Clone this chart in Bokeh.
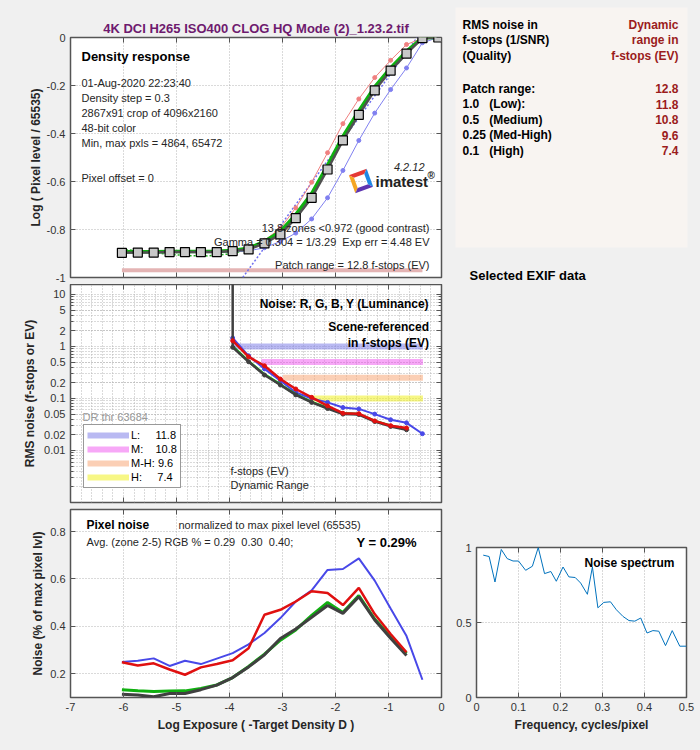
import math
from bokeh.plotting import figure
from bokeh.layouts import row, column
from bokeh.models import (Label, FixedTicker, NumeralTickFormatter, LinearAxis, LogAxis,
                          Legend, LegendItem, PolyAnnotation, BoxAnnotation, Range1d)
from bokeh.embed import file_html
from bokeh.resources import INLINE

FONT = "Liberation Sans"
BG = "#f0f0f0"
FRAME = "#555555"
TXT = "#262626"
GRID = "#b4b4b4"

# ---------------- data ----------------
title_text = "4K DCI H265 ISO400 CLOG HQ Mode (2)_1.23.2.tif"

patch_x = [-6.03, -5.73, -5.43, -5.13, -4.84, -4.54, -4.24, -3.94, -3.64, -3.34, -3.04,
           -2.75, -2.45, -2.15, -1.86, -1.56, -1.26, -0.96, -0.66, -0.36, -0.06]
density_Y = [-0.897, -0.896, -0.896, -0.894, -0.894, -0.894, -0.894, -0.890, -0.883, -0.858, -0.820,
             -0.753, -0.668, -0.550, -0.429, -0.322, -0.220, -0.138, -0.067, -0.003, 0.0]
density_G = [-0.893, -0.893, -0.893, -0.892, -0.892, -0.892, -0.891, -0.887, -0.878, -0.850, -0.808,
             -0.738, -0.650, -0.533, -0.412, -0.306, -0.206, -0.127, -0.058, -0.001, 0.0]
density_R = [-0.897, -0.896, -0.896, -0.894, -0.894, -0.894, -0.893, -0.888, -0.876, -0.845, -0.795,
             -0.710, -0.603, -0.480, -0.359, -0.256, -0.167, -0.095, -0.029, -0.003, 0.0]
density_B = [-0.897, -0.897, -0.897, -0.896, -0.896, -0.896, -0.896, -0.893, -0.889, -0.876, -0.850,
             -0.815, -0.756, -0.668, -0.554, -0.429, -0.315, -0.217, -0.127, -0.022, 0.0]
fit_x = [-6.03, -5.6, -5.2, -4.8, -4.4, -4.0, -3.7, -3.4, -3.1, -2.8, -2.5]
fit_y = [-0.882, -0.893, -0.902, -0.909, -0.910, -0.902, -0.887, -0.862, -0.823, -0.765, -0.685]
gamma_x = [-3.75, -0.46]
gamma_y = [-1.0, 0.0]
patch_range_x = [-6.03, -0.36]
patch_range_y = [-0.97, -0.97]

density_info = ["01-Aug-2020 22:23:40", "Density step = 0.3", "2867x91 crop of 4096x2160",
                "48-bit color", "Min, max pxls = 4864, 65472"]

# RMS noise in f-stops (scene referenced)
noise_x = [-3.94, -3.64, -3.34, -3.04, -2.75, -2.45, -2.15, -1.86, -1.56, -1.26, -0.96, -0.66]
noise_xB = [-3.94, -3.64, -3.34, -3.04, -2.75, -2.45, -2.15, -1.86, -1.56, -1.26, -0.96, -0.66, -0.36]
noise_Y = [0.96, 0.508, 0.282, 0.181, 0.117, 0.084, 0.064, 0.050, 0.049, 0.036, 0.029, 0.025]
noise_G = [1.0, 0.52, 0.29, 0.186, 0.12, 0.086, 0.066, 0.052, 0.050, 0.037, 0.030, 0.026]
noise_R = [1.29, 0.63, 0.425, 0.236, 0.152, 0.105, 0.072, 0.052, 0.051, 0.037, 0.030, 0.027]
noise_B = [1.45, 0.66, 0.37, 0.22, 0.13, 0.10, 0.084, 0.067, 0.063, 0.050, 0.039, 0.034, 0.021]
noise_offscale = 100.0   # the Y curve leaves the chart at the dark end

dr_names = ["L:", "M:", "M-H:", "H:"]
dr_thresholds = [1.0, 0.5, 0.25, 0.1]
dr_start_x = [-3.92, -3.40, -2.99, -2.46]
dr_end_x = -0.35
dr_colors = ["#8080e8", "#f060f0", "#f8a878", "#f0f020"]
dr_patch = 12.8
dr_values = [11.8, 10.8, 9.6, 7.4]
quality_labels = ["1.0\u00a0\u00a0\u00a0(Low):", "0.5\u00a0\u00a0\u00a0(Medium)",
                  "0.25 (Med-High)", "0.1\u00a0\u00a0\u00a0(High)"]

# Pixel noise (% of max pixel level)
pix_x = [-6.03, -5.73, -5.43, -5.13, -4.84, -4.54, -4.24, -3.94, -3.64, -3.34, -3.04,
         -2.75, -2.45, -2.15, -1.86, -1.56, -1.26, -0.96, -0.66]
pix_xB = pix_x + [-0.36]
pix_B = [0.250, 0.255, 0.265, 0.233, 0.255, 0.241, 0.264, 0.287, 0.324, 0.372, 0.435,
         0.505, 0.552, 0.638, 0.642, 0.687, 0.593, 0.475, 0.359, 0.175]
pix_R = [0.249, 0.235, 0.244, 0.218, 0.196, 0.227, 0.241, 0.257, 0.308, 0.449, 0.470,
         0.505, 0.548, 0.541, 0.490, 0.562, 0.452, 0.368, 0.291]
pix_G = [0.133, 0.128, 0.125, 0.127, 0.128, 0.138, 0.153, 0.184, 0.231, 0.283, 0.342,
         0.385, 0.446, 0.501, 0.459, 0.530, 0.431, 0.355, 0.286]
pix_Y = [0.114, 0.111, 0.103, 0.117, 0.117, 0.133, 0.152, 0.184, 0.229, 0.280, 0.349,
         0.389, 0.438, 0.488, 0.455, 0.525, 0.427, 0.350, 0.277]

# Noise spectrum
spec_f = [0.016, 0.030, 0.044, 0.059, 0.073, 0.087, 0.100, 0.117, 0.133, 0.147, 0.162, 0.177,
          0.190, 0.206, 0.220, 0.235, 0.248, 0.264, 0.276, 0.289, 0.303, 0.319, 0.333, 0.349,
          0.363, 0.377, 0.391, 0.406, 0.420, 0.434, 0.450, 0.466, 0.484, 0.500]
spec_v = [0.949, 0.940, 0.770, 0.987, 0.926, 0.910, 0.910, 0.848, 0.875, 1.000, 0.826, 0.840,
          0.775, 0.870, 0.804, 0.800, 0.763, 0.688, 0.870, 0.598, 0.634, 0.638, 0.585, 0.540,
          0.513, 0.509, 0.530, 0.430, 0.446, 0.442, 0.346, 0.446, 0.342, 0.342]

x_ticks = [-7, -6, -5, -4, -3, -2, -1, 0]
dens_ticks = [-1.0, -0.8, -0.6, -0.4, -0.2, 0.0]
log_ticks = [0.01, 0.02, 0.05, 0.1, 0.2, 0.5, 1, 2, 5, 10]
pix_ticks = [0.2, 0.4, 0.6, 0.8]
spec_xticks = [0, 0.1, 0.2, 0.3, 0.4, 0.5]
spec_yticks = [0, 0.5, 1]


# ---------------- helpers ----------------
def style_axis(ax, labels=True):
    ax.axis_line_color = None
    ax.major_tick_in = 5
    ax.major_tick_out = 0
    ax.minor_tick_in = 0
    ax.minor_tick_out = 0
    ax.major_tick_line_color = FRAME
    ax.minor_tick_line_color = FRAME
    ax.major_label_text_font = FONT
    if labels:
        ax.major_label_text_font_size = "11px"
        ax.major_label_text_color = "#333333"
        ax.major_label_standoff = 5
    else:
        ax.major_label_text_font_size = "0px"
        ax.major_label_text_color = None
        ax.major_label_standoff = 0
    ax.axis_label_text_font = FONT
    ax.axis_label_text_font_size = "12px"
    ax.axis_label_text_font_style = "bold"
    ax.axis_label_text_color = TXT
    ax.axis_label_standoff = 4


def make_fig(w, h, bl, br, bt, bb, xr, yr, y_type="linear"):
    p = figure(width=w, height=h, x_range=Range1d(*xr), y_range=Range1d(*yr),
               y_axis_type=y_type, output_backend="svg", toolbar_location=None,
               min_border_left=bl, min_border_right=br, min_border_top=bt, min_border_bottom=bb)
    p.frame_align = False
    p.border_fill_color = BG
    p.background_fill_color = "white"
    p.outline_line_color = FRAME
    p.outline_line_width = 1.5
    return p


def grid_style(g):
    g.grid_line_color = GRID
    g.grid_line_dash = "1 2"
    g.grid_line_width = 1


def setup_axes(p, xt, yt, xfmt, yfmt, xlabels, ylabels, xlabel=None, ylabel=None, log=False):
    p.xaxis.ticker = xt
    p.yaxis.ticker = yt
    p.xaxis.formatter = xfmt
    p.yaxis.formatter = yfmt
    style_axis(p.xaxis[0], xlabels)
    style_axis(p.yaxis[0], ylabels)
    if xlabel:
        p.xaxis.axis_label = xlabel
    if ylabel:
        p.yaxis.axis_label = ylabel
    top = LinearAxis(ticker=xt)
    style_axis(top, False)
    p.add_layout(top, "above")
    right = LogAxis(ticker=yt) if log else LinearAxis(ticker=yt)
    style_axis(right, False)
    p.add_layout(right, "right")
    p.xgrid.ticker = xt
    p.ygrid.ticker = yt
    grid_style(p.xgrid[0])
    grid_style(p.ygrid[0])


def lab(p, fl, fb, x, y, text, size="11px", style="normal", color=TXT, align="left"):
    # x, y given in page pixels; converted to frame-relative screen units
    p.add_layout(Label(x=x - fl, y=fb - y, x_units="screen", y_units="screen", text=text,
                       text_font=FONT, text_font_size=size, text_font_style=style,
                       text_color=color, text_align=align, text_baseline="middle"))


LW, RW = 450, 250

# ---------------- top: density response ----------------
p1 = make_fig(LW, 284, 70, 9, 37, 7, (-7, 0), (-1, 0))
setup_axes(p1, FixedTicker(ticks=x_ticks), FixedTicker(ticks=dens_ticks),
           NumeralTickFormatter(format="0"), NumeralTickFormatter(format="0.[0]"),
           False, True, ylabel="Log ( Pixel level / 65535)")
p1.yaxis[0].axis_label_standoff = 1
p1.title.text = title_text
p1.title.align = "center"
p1.title.text_font = FONT
p1.title.text_font_size = "13px"
p1.title.text_font_style = "bold"
p1.title.text_color = "#6e1a6e"
p1.title.standoff = 3
FL1, FB1 = 70, 277
p1.line(patch_range_x, patch_range_y, line_color="#e4b4b4", line_width=4)
p1.line(fit_x, fit_y, line_color="#20b020", line_width=1.5, line_dash="2 2")
p1.line(gamma_x, gamma_y, line_color="#7070f0", line_width=1.5, line_dash="2 2")
p1.line(patch_x, density_R, line_color="#f08080", line_width=1)
p1.scatter(patch_x, density_R, size=4, color="#f08080")
p1.line(patch_x, density_B, line_color="#8080f0", line_width=1)
p1.scatter(patch_x, density_B, size=4, color="#8080f0")
p1.line(patch_x, density_G, line_color="#10b010", line_width=3.5)
p1.line(patch_x, density_Y, line_color="#505050", line_width=2.5)
p1.scatter(patch_x, density_Y, marker="square", size=9, fill_color="#c8c8c8",
           line_color="black", line_width=1.2)

lab(p1, FL1, FB1, 81, 56, "Density response", size="13px", style="bold", color="black")
for i, t in enumerate(density_info):
    lab(p1, FL1, FB1, 81, 82 + 15 * i, t)
lab(p1, FL1, FB1, 81, 177, "Pixel offset = 0")
lab(p1, FL1, FB1, 429, 227.5, "13.8 zones <0.972 (good contrast)", align="right")
lab(p1, FL1, FB1, 429, 241.7, "Gamma = 0.304 = 1/3.29\u00a0\u00a0Exp err = 4.48 EV", align="right")
lab(p1, FL1, FB1, 429, 264.3, f"Patch range = {dr_patch} f-stops (EV)", align="right")
lab(p1, FL1, FB1, 424, 166.7, "4.2.12", style="italic", align="right")
lab(p1, FL1, FB1, 375, 181, "imatest", size="15px", style="bold", color="#222222")
lab(p1, FL1, FB1, 427, 175, "\u00ae", size="10px", style="bold", color="#222222")
# imatest logo (rotated square with coloured edges)
cx, cy, hs, th, rot = 360.5 - FL1, FB1 - 180.5, 9.5, 4.0, math.radians(20)
logo_cols = ["#e53935", "#f5a623", "#5e35b1", "#1e88e5"]
corners = [rot + math.pi / 4 + k * math.pi / 2 for k in range(4)]
for k in range(4):
    a0, a1 = corners[k], corners[(k + 1) % 4]
    ro, ri = hs * math.sqrt(2), (hs - th) * math.sqrt(2)
    xs = [cx + ro * math.cos(a0), cx + ro * math.cos(a1), cx + ri * math.cos(a1), cx + ri * math.cos(a0)]
    ys = [cy + ro * math.sin(a0), cy + ro * math.sin(a1), cy + ri * math.sin(a1), cy + ri * math.sin(a0)]
    p1.add_layout(PolyAnnotation(xs=xs, ys=ys, xs_units="screen", ys_units="screen",
                                 fill_color=logo_cols[k], fill_alpha=1, line_color=None))

# ---------------- middle: RMS noise ----------------
p2 = make_fig(LW, 221, 70, 9, 0, 3, (-7, 0), (0.001, 15.5), y_type="log")
minor_x = [v / 5 for v in range(-35, 1) if v % 5 != 0]
minor_y = [k * 10 ** e for e in range(-3, 2) for k in range(2, 10)]
xt2 = FixedTicker(ticks=x_ticks, minor_ticks=minor_x)
yt2 = FixedTicker(ticks=log_ticks, minor_ticks=minor_y)
setup_axes(p2, xt2, yt2, NumeralTickFormatter(format="0"), NumeralTickFormatter(format="0.[00]"),
           False, True, ylabel="RMS noise (f-stops or EV)", log=True)
for ax in p2.yaxis:
    ax.minor_tick_in = 3
p2.xgrid.minor_grid_line_color = GRID
p2.xgrid.minor_grid_line_dash = "1 2"
p2.ygrid.minor_grid_line_color = GRID
p2.ygrid.minor_grid_line_dash = "1 2"
FL2, FB2 = 70, 502
band_renderers = []
for name, thr, x0, col in zip(dr_names, dr_thresholds, dr_start_x, dr_colors):
    r = p2.line([x0, dr_end_x], [thr, thr], line_color=col, line_width=6, line_alpha=0.55)
    band_renderers.append(r)
p2.line(noise_xB, noise_B, line_color="#4848e8", line_width=2)
p2.scatter(noise_xB, noise_B, size=4, color="#4848e8")
p2.line(noise_x, noise_G, line_color="#10b010", line_width=2.5)
p2.line([noise_x[0]] + noise_x, [noise_offscale] + noise_Y, line_color="#404040", line_width=2.5)
p2.scatter(noise_x, noise_Y, size=4, color="#404040")
p2.line(noise_x, noise_R, line_color="#e01010", line_width=2.5)
p2.scatter(noise_x, noise_R, size=4, color="#e01010")

lab(p2, FL2, FB2, 428.5, 303.5, "Noise: R, G, B, Y (Luminance)", size="12px", style="bold", color="black", align="right")
lab(p2, FL2, FB2, 428.5, 326.3, "Scene-referenced", size="12px", style="bold", color="black", align="right")
lab(p2, FL2, FB2, 428.5, 342.5, "in f-stops (EV)", size="12px", style="bold", color="black", align="right")
lab(p2, FL2, FB2, 230, 470, "f-stops (EV)")
lab(p2, FL2, FB2, 230, 484, "Dynamic Range")
lab(p2, FL2, FB2, 82, 416, "DR thr 63684", color="#9a9a9a")

leg_pad = {"L:": 5, "M:": 4, "M-H:": 1, "H:": 5}
leg_labels = [f"{n}{chr(160) * leg_pad[n]}{v}" for n, v in zip(dr_names, dr_values)]
legend = Legend(items=[LegendItem(label=t, renderers=[r]) for t, r in zip(leg_labels, band_renderers)],
                location=(13, 14), margin=0, padding=3, spacing=0, glyph_width=42, glyph_height=14,
                label_height=14, label_standoff=2, label_text_font=FONT, label_text_font_size="11px",
                label_text_color="black", border_line_color="#333333", border_line_width=1,
                background_fill_color="white", background_fill_alpha=1)
p2.add_layout(legend)

# ---------------- bottom: pixel noise ----------------
p3 = make_fig(LW, 245, 70, 9, 4, 53, (-7, 0), (0.1, 0.893))
setup_axes(p3, FixedTicker(ticks=x_ticks), FixedTicker(ticks=pix_ticks),
           NumeralTickFormatter(format="0"), NumeralTickFormatter(format="0.[0]"),
           True, True, xlabel="Log Exposure ( -Target Density D )", ylabel="Noise (% of max pixel lvl)")
p3.xaxis[0].major_label_standoff = 8
p3.xaxis[0].axis_label_standoff = 7
p3.yaxis[0].axis_label_standoff = 2
FL3, FB3 = 70, 697
p3.line(pix_xB, pix_B, line_color="#4848e8", line_width=2)
p3.line(pix_x, pix_G, line_color="#10b010", line_width=3)
p3.line(pix_x, pix_Y, line_color="#404040", line_width=3)
p3.line(pix_x, pix_R, line_color="#e01010", line_width=2.5)
lab(p3, FL3, FB3, 86, 524, "Pixel noise", size="12px", style="bold", color="black")
lab(p3, FL3, FB3, 178, 524, "normalized to max pixel level (65535)")
lab(p3, FL3, FB3, 86, 541.7, "Avg. (zone 2-5) RGB % = 0.29\u00a0\u00a00.30\u00a0\u00a00.40;")
lab(p3, FL3, FB3, 356, 541.7, "Y = 0.29%", size="13px", style="bold", color="black")

# ---------------- right: text panel (frame spans whole figure, page-pixel ranges) ----------------
p4 = figure(width=RW, height=505, x_range=Range1d(450, 700), y_range=Range1d(505, 0),
            x_axis_type=None, y_axis_type=None, output_backend="svg", toolbar_location=None,
            min_border_left=0, min_border_right=0, min_border_top=0, min_border_bottom=0)
p4.frame_align = False
p4.border_fill_color = BG
p4.background_fill_color = BG
p4.outline_line_color = None
p4.grid.visible = False
p4.add_layout(BoxAnnotation(left=455, right=687, top=7, bottom=247, fill_color="#f8f4f1",
                            fill_alpha=1, line_color=None))


def labd(x, y, text, size="12px", style="bold", color="black", align="left"):
    p4.add_layout(Label(x=x, y=y, text=text, text_font=FONT, text_font_size=size,
                        text_font_style=style, text_color=color, text_align=align,
                        text_baseline="middle"))


RED = "#9b1c1c"
for i, t in enumerate(["RMS noise in", "f-stops (1/SNR)", "(Quality)"]):
    labd(462, 24 + 15.5 * i, t)
for i, t in enumerate(["Dynamic", "range in", "f-stops (EV)"]):
    labd(678, 24 + 15.5 * i, t, color=RED, align="right")
left_rows = ["Patch range:"] + quality_labels
right_rows = [dr_patch] + dr_values
for i, (t, v) in enumerate(zip(left_rows, right_rows)):
    labd(462, 88.3 + 15.5 * i, t)
    labd(678, 88.3 + 15.5 * i, f"{v}", color=RED, align="right")
labd(469, 275, "Selected EXIF data", size="13px")

# ---------------- right: noise spectrum ----------------
p5 = make_fig(RW, 245, 26, 14, 42, 53, (0, 0.5), (0, 1))
setup_axes(p5, FixedTicker(ticks=spec_xticks), FixedTicker(ticks=spec_yticks),
           NumeralTickFormatter(format="0.[0]"), NumeralTickFormatter(format="0.[0]"),
           True, True, xlabel="Frequency, cycles/pixel")
p5.xaxis[0].major_label_standoff = 8
p5.xaxis[0].axis_label_standoff = 7
p5.line(spec_f, spec_v, line_color="#0072bd", line_width=1)
lab(p5, 476, 697, 584, 562.7, "Noise spectrum", size="12px", style="bold", color="black")

layout = row(column(p1, p2, p3), column(p4, p5))
layout.styles = {"background-color": BG}

open("out.html", "w").write(file_html(layout, INLINE))
